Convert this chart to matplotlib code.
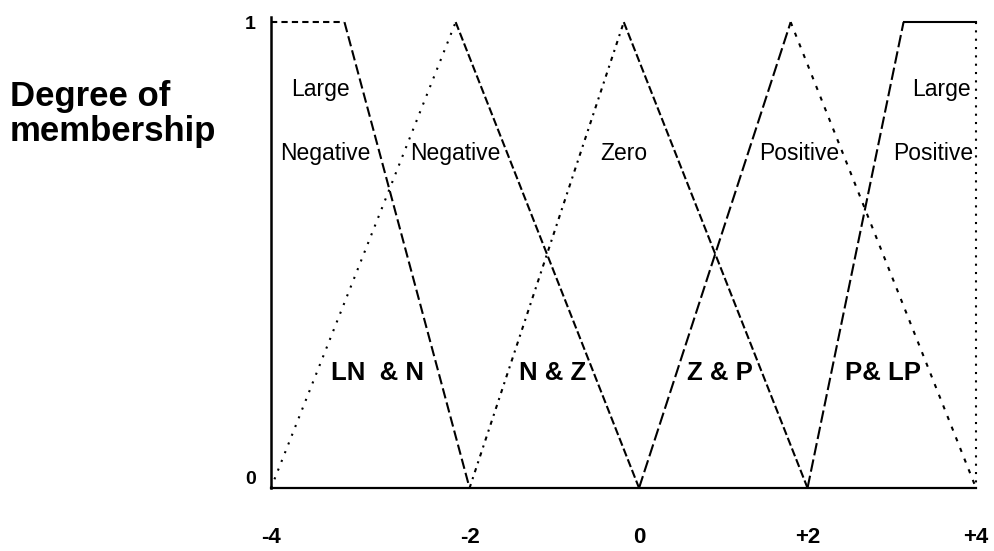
import numpy as np
import matplotlib
matplotlib.use("Agg")
import matplotlib.pyplot as plt

# membership function breakpoints
ln_x = [-4, -3.26, -2]
ln_y = [1, 1, 0]
n_x = [-4, -2.14, 0]
n_y = [0, 1, 0]
z_x = [-2, -0.18, 2]
z_y = [0, 1, 0]
p_x = [0, 1.80, 4]
p_y = [0, 1, 0]
lp_x = [2, 3.14, 4, 4]
lp_y = [0, 1, 1, 0]

# set names, upper word / lower word
top_names = ["Large", "Large"]
top_x = [-3.50, 3.59]
low_names = ["Negative", "Negative", "Zero", "Positive", "Positive"]
low_x = [-3.45, -2.14, -0.18, 1.90, 3.49]

overlap_names = ["LN  & N", "N & Z", "Z & P", "P& LP"]
overlap_x = [-2.93, -1.02, 0.96, 2.90]

xtick_vals = [-4, -2, 0, 2, 4]
xtick_labels = ["-4", "-2", "0", "+2", "+4"]

# the original drawing is not evenly spaced, -4..-2 is wider
knots = [-4, -2, 0, 2, 4]
screen = [0, 198, 367, 535, 703]

def fwd(x):
    return np.interp(x, knots, screen, left=-1e9, right=1e9)

def inv(s):
    return np.interp(s, screen, knots)

plt.rcParams['font.family'] = ['Liberation Sans', 'DejaVu Sans']

fig = plt.figure(figsize=(9.94, 5.51), dpi=100)
ax = fig.add_axes([271/994, 63/551, 705/994, 471/551])
ax.set_xscale('function', functions=(fwd, inv))
ax.set_xlim(-4, 4)
ax.set_ylim(0, 1.011)

lw = 1.5
def seg(xs, ys, i, j, ls):
    ax.plot(xs[i:j+1], ys[i:j+1], color='black', lw=lw, linestyle=ls, clip_on=False)

# large negative
seg(ln_x, ln_y, 0, 1, (0, (3, 2)))
seg(ln_x, ln_y, 1, 2, (0, (5, 2)))
# negative
seg(n_x, n_y, 0, 1, (0, (1, 3.5)))
seg(n_x, n_y, 1, 2, (0, (4, 1.5)))
# zero
seg(z_x, z_y, 0, 1, (0, (2, 2.5, 1, 2.5)))
seg(z_x, z_y, 1, 2, (0, (4, 1.5)))
# positive
seg(p_x, p_y, 0, 1, (0, (6, 2)))
seg(p_x, p_y, 1, 2, (0, (2, 3.5)))
# large positive
seg(lp_x, lp_y, 0, 1, (0, (6, 2)))
seg(lp_x, lp_y, 1, 2, '-')
seg(lp_x, lp_y, 2, 3, (0, (1, 3)))

for name, x in zip(top_names, top_x):
    ax.text(x, 0.855, name, fontsize=16.5, ha='center', va='center')
for name, x in zip(low_names, low_x):
    ax.text(x, 0.718, name, fontsize=16.5, ha='center', va='center')

for name, x in zip(overlap_names, overlap_x):
    ax.text(x, 0.247, name, fontsize=18.5, fontweight='bold', ha='center', va='center')

ax.spines['top'].set_visible(False)
ax.spines['right'].set_visible(False)
ax.spines['left'].set_linewidth(1.8)
ax.spines['bottom'].set_linewidth(1.6)

ax.set_xticks(xtick_vals)
ax.set_xticklabels(xtick_labels, fontsize=16, fontweight='bold')
ax.set_yticks([0, 1])
ax.set_yticklabels(['0', '1'], fontsize=14, fontweight='bold')
ax.get_yticklabels()[0].set_va('bottom')
ax.tick_params(axis='x', length=0, pad=28)
ax.tick_params(axis='y', length=0, pad=11)
ax.xaxis.set_minor_locator(matplotlib.ticker.NullLocator())

fig.text(10/994, 1 - 114/551, "Degree of\nmembership", fontsize=25, fontweight='bold',
         ha='left', va='center', linespacing=1.1)

fig.savefig("out.png", dpi=100)
